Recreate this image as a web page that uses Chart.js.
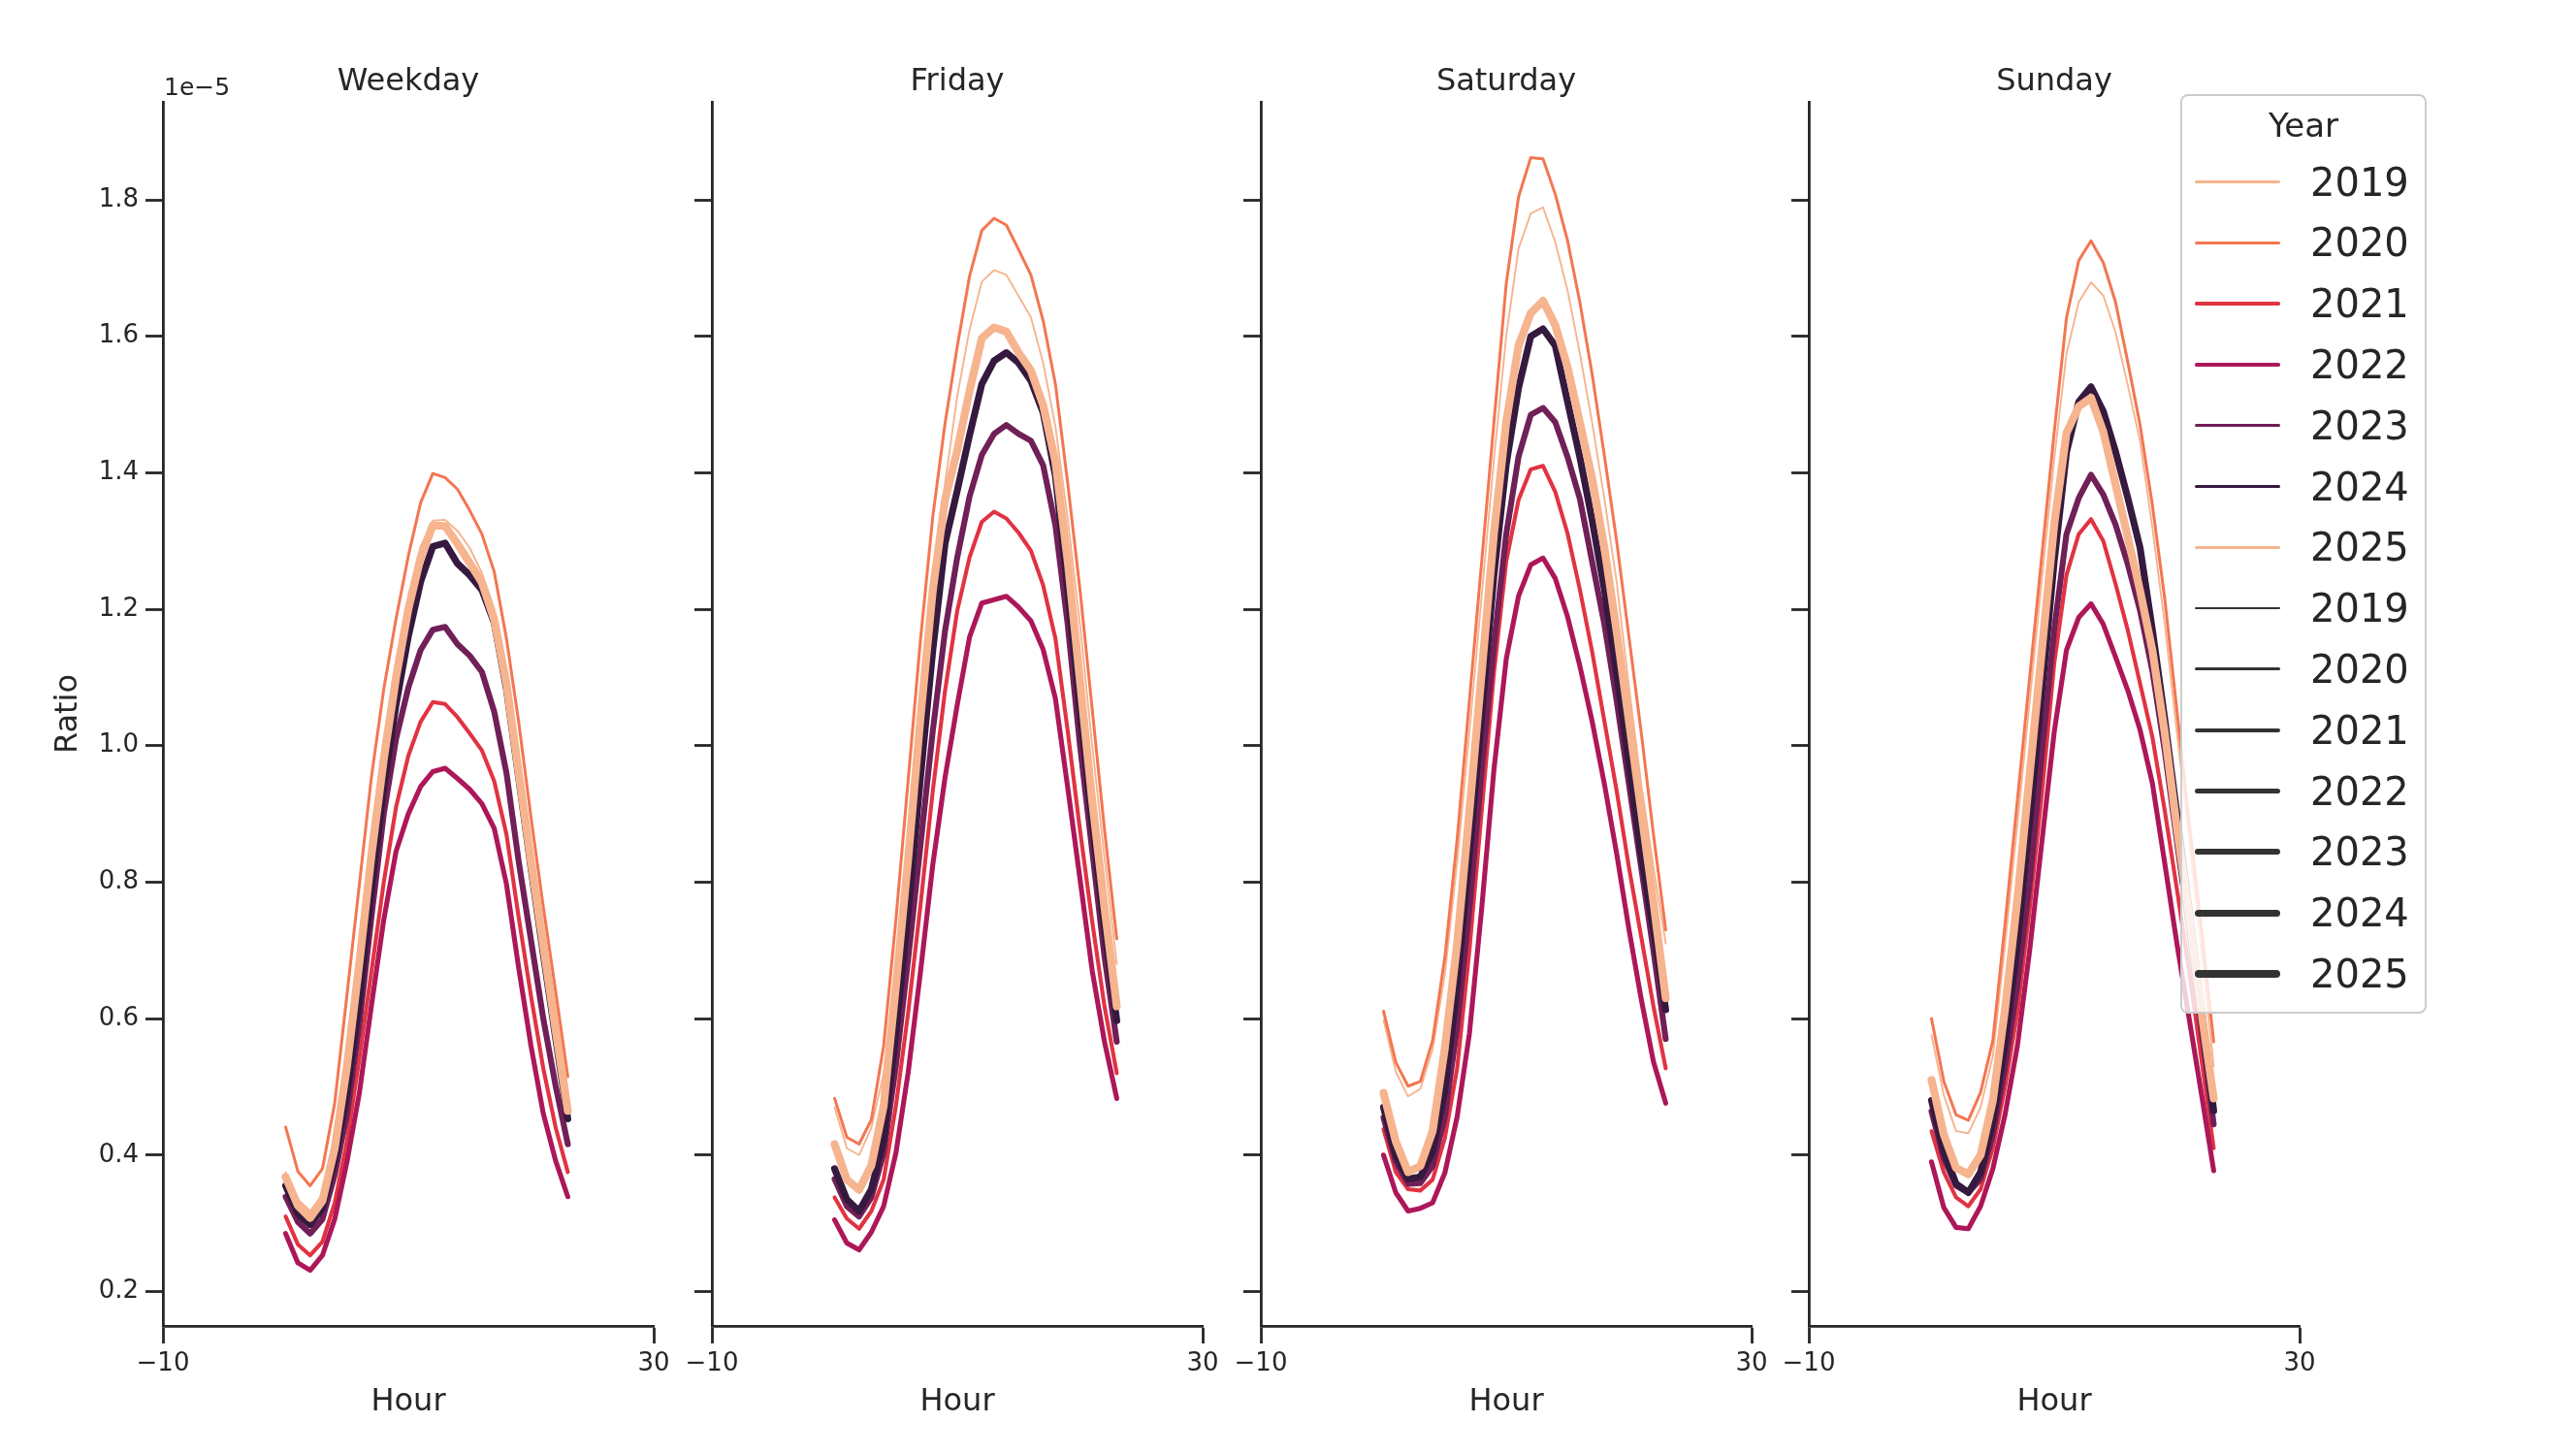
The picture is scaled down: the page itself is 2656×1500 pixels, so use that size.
<!DOCTYPE html>
<html>
<head>
<meta charset="utf-8">
<title>Ratio by hour</title>
<script src="https://cdn.jsdelivr.net/npm/chart.js@4.4.1/dist/chart.umd.min.js"></script>
<style>
  html, body { margin: 0; padding: 0; background: #ffffff; }
  #figure { position: relative; width: 2656px; height: 1500px; overflow: hidden; font-family: "DejaVu Sans", sans-serif; color: #262626; }
  #figure canvas { position: absolute; top: 0; }
  #legend {
    position: absolute; left: 2248px; top: 97px; width: 250px; height: 944px;
    border: 2.5px solid #cccccc; border-radius: 8px; background: rgba(255, 255, 255, 0.8);
  }
  #legend .title { position: absolute; left: 0; right: 0; top: 10px; text-align: center; font-size: 34px; line-height: 40px; }
  #legend .row { position: absolute; left: 0; height: 62px; display: flex; align-items: center; }
  #legend .swatch { margin-left: 13px; width: 88px; }
  #legend .label { margin-left: 31px; font-size: 40px; line-height: 62px; }
</style>
</head>
<body>
<div id="figure">
  <canvas id="panel0" width="700" height="1500" style="left:0px"></canvas>
  <canvas id="panel1" width="700" height="1500" style="left:566px"></canvas>
  <canvas id="panel2" width="700" height="1500" style="left:1132px"></canvas>
  <canvas id="panel3" width="700" height="1500" style="left:1697px"></canvas>
  <div id="legend"></div>
</div>
<script>
// values are in units of 1e-5
const hours = [0, 1, 2, 3, 4, 5, 6, 7, 8, 9, 10, 11, 12, 13, 14, 15, 16, 17, 18, 19, 20, 21, 22, 23];
const years = [2019, 2020, 2021, 2022, 2023, 2024, 2025];
const panelTitles = ["Weekday", "Friday", "Saturday", "Sunday"];
const xTickValues = [-10, 30];
const yTickValues = [0.2, 0.4, 0.6, 0.8, 1.0, 1.2, 1.4, 1.6, 1.8];
const yMin = 0.1495;
const yMax = 1.9436;

// rows follow the years array
const weekdayRatio = [
  [0.375, 0.335, 0.318, 0.343, 0.420, 0.560, 0.715, 0.875, 1.010, 1.125, 1.218, 1.292, 1.330, 1.331, 1.315, 1.290, 1.253, 1.200, 1.110, 0.985, 0.858, 0.735, 0.615, 0.495],
  [0.441, 0.376, 0.355, 0.380, 0.476, 0.635, 0.795, 0.955, 1.083, 1.186, 1.278, 1.356, 1.399, 1.393, 1.376, 1.345, 1.310, 1.255, 1.157, 1.034, 0.895, 0.764, 0.641, 0.515],
  [0.310, 0.269, 0.253, 0.273, 0.330, 0.420, 0.540, 0.670, 0.800, 0.910, 0.985, 1.035, 1.064, 1.061, 1.042, 1.018, 0.993, 0.948, 0.870, 0.748, 0.633, 0.527, 0.441, 0.375],
  [0.285, 0.242, 0.231, 0.253, 0.306, 0.390, 0.490, 0.620, 0.745, 0.845, 0.900, 0.940, 0.962, 0.967, 0.952, 0.936, 0.915, 0.879, 0.797, 0.674, 0.560, 0.461, 0.392, 0.339],
  [0.339, 0.302, 0.285, 0.306, 0.371, 0.460, 0.590, 0.750, 0.900, 1.010, 1.085, 1.140, 1.170, 1.174, 1.149, 1.132, 1.108, 1.050, 0.960, 0.830, 0.715, 0.600, 0.502, 0.416],
  [0.355, 0.314, 0.298, 0.322, 0.392, 0.490, 0.625, 0.790, 0.940, 1.060, 1.160, 1.240, 1.292, 1.297, 1.267, 1.250, 1.228, 1.180, 1.083, 0.952, 0.821, 0.695, 0.572, 0.453],
  [0.368, 0.326, 0.308, 0.333, 0.410, 0.530, 0.680, 0.840, 0.980, 1.100, 1.200, 1.275, 1.323, 1.322, 1.296, 1.268, 1.239, 1.185, 1.091, 0.960, 0.830, 0.707, 0.584, 0.465]
];

const fridayRatio = [
  [0.470, 0.410, 0.400, 0.440, 0.520, 0.680, 0.860, 1.060, 1.250, 1.384, 1.512, 1.610, 1.680, 1.697, 1.690, 1.659, 1.628, 1.561, 1.468, 1.333, 1.178, 1.000, 0.836, 0.680],
  [0.483, 0.426, 0.416, 0.452, 0.560, 0.745, 0.950, 1.155, 1.335, 1.472, 1.585, 1.688, 1.755, 1.773, 1.763, 1.727, 1.690, 1.623, 1.530, 1.385, 1.229, 1.053, 0.877, 0.717],
  [0.338, 0.307, 0.292, 0.318, 0.364, 0.472, 0.609, 0.766, 0.933, 1.080, 1.198, 1.276, 1.328, 1.343, 1.333, 1.312, 1.286, 1.235, 1.157, 1.022, 0.877, 0.742, 0.618, 0.520],
  [0.305, 0.271, 0.261, 0.287, 0.325, 0.403, 0.521, 0.668, 0.825, 0.953, 1.060, 1.159, 1.209, 1.214, 1.219, 1.203, 1.183, 1.141, 1.069, 0.939, 0.805, 0.670, 0.566, 0.483],
  [0.365, 0.325, 0.310, 0.338, 0.403, 0.531, 0.688, 0.854, 1.021, 1.168, 1.276, 1.365, 1.426, 1.457, 1.470, 1.457, 1.447, 1.411, 1.323, 1.178, 1.001, 0.846, 0.691, 0.566],
  [0.380, 0.335, 0.318, 0.350, 0.423, 0.580, 0.757, 0.953, 1.139, 1.296, 1.374, 1.455, 1.530, 1.564, 1.576, 1.561, 1.535, 1.488, 1.395, 1.229, 1.053, 0.887, 0.732, 0.597],
  [0.416, 0.364, 0.349, 0.385, 0.472, 0.648, 0.835, 1.041, 1.227, 1.360, 1.433, 1.520, 1.597, 1.613, 1.607, 1.576, 1.550, 1.499, 1.416, 1.271, 1.095, 0.919, 0.763, 0.618]
];

const saturdayRatio = [
  [0.598, 0.522, 0.486, 0.497, 0.555, 0.665, 0.830, 1.020, 1.220, 1.420, 1.600, 1.728, 1.780, 1.789, 1.738, 1.667, 1.575, 1.474, 1.362, 1.240, 1.087, 0.944, 0.822, 0.710],
  [0.611, 0.536, 0.501, 0.508, 0.568, 0.690, 0.863, 1.066, 1.270, 1.474, 1.677, 1.804, 1.862, 1.860, 1.808, 1.740, 1.650, 1.545, 1.425, 1.300, 1.160, 1.020, 0.870, 0.730],
  [0.438, 0.375, 0.350, 0.348, 0.364, 0.425, 0.527, 0.700, 0.904, 1.107, 1.270, 1.360, 1.405, 1.410, 1.372, 1.311, 1.229, 1.138, 1.036, 0.934, 0.822, 0.720, 0.618, 0.527],
  [0.400, 0.345, 0.318, 0.322, 0.330, 0.374, 0.456, 0.578, 0.761, 0.965, 1.127, 1.219, 1.265, 1.275, 1.245, 1.189, 1.117, 1.036, 0.944, 0.842, 0.731, 0.629, 0.537, 0.476],
  [0.455, 0.390, 0.358, 0.359, 0.384, 0.456, 0.588, 0.761, 0.965, 1.148, 1.310, 1.423, 1.485, 1.495, 1.474, 1.423, 1.362, 1.270, 1.178, 1.066, 0.944, 0.822, 0.700, 0.570],
  [0.470, 0.400, 0.365, 0.368, 0.405, 0.496, 0.649, 0.842, 1.046, 1.250, 1.412, 1.524, 1.600, 1.611, 1.586, 1.504, 1.423, 1.331, 1.229, 1.107, 0.975, 0.842, 0.731, 0.613],
  [0.491, 0.420, 0.375, 0.384, 0.435, 0.557, 0.710, 0.904, 1.107, 1.311, 1.474, 1.586, 1.634, 1.652, 1.616, 1.555, 1.474, 1.392, 1.290, 1.168, 1.036, 0.904, 0.771, 0.630]
];

const sundayRatio = [
  [0.576, 0.488, 0.435, 0.432, 0.470, 0.545, 0.710, 0.885, 1.065, 1.245, 1.420, 1.574, 1.650, 1.679, 1.660, 1.606, 1.528, 1.446, 1.320, 1.180, 1.020, 0.860, 0.700, 0.530],
  [0.600, 0.508, 0.459, 0.451, 0.492, 0.568, 0.740, 0.920, 1.100, 1.280, 1.459, 1.627, 1.711, 1.740, 1.708, 1.650, 1.562, 1.470, 1.353, 1.217, 1.052, 0.887, 0.731, 0.566],
  [0.435, 0.375, 0.338, 0.325, 0.350, 0.410, 0.500, 0.610, 0.760, 0.930, 1.120, 1.250, 1.310, 1.332, 1.300, 1.237, 1.169, 1.091, 1.013, 0.906, 0.790, 0.670, 0.540, 0.410],
  [0.390, 0.323, 0.294, 0.292, 0.325, 0.380, 0.460, 0.560, 0.700, 0.860, 1.020, 1.140, 1.188, 1.208, 1.178, 1.130, 1.081, 1.023, 0.945, 0.829, 0.710, 0.600, 0.490, 0.377],
  [0.464, 0.395, 0.355, 0.345, 0.365, 0.430, 0.530, 0.650, 0.800, 0.990, 1.170, 1.310, 1.363, 1.397, 1.368, 1.324, 1.266, 1.198, 1.110, 0.994, 0.860, 0.730, 0.585, 0.445],
  [0.480, 0.405, 0.358, 0.345, 0.375, 0.450, 0.565, 0.710, 0.890, 1.080, 1.270, 1.430, 1.504, 1.526, 1.490, 1.431, 1.363, 1.290, 1.170, 1.040, 0.900, 0.760, 0.615, 0.465],
  [0.510, 0.430, 0.381, 0.372, 0.400, 0.480, 0.615, 0.775, 0.958, 1.141, 1.324, 1.458, 1.497, 1.510, 1.460, 1.383, 1.305, 1.227, 1.140, 1.020, 0.880, 0.750, 0.610, 0.483]
];

const panelData = [weekdayRatio, fridayRatio, saturdayRatio, sundayRatio];

// rocket palette, 6 colours, cycling back for 2025
const yearColors = ["#f6b48f", "#f37651", "#e13342", "#ad1759", "#701f57", "#35193e", "#f6b48f"];
const yearWidths = [1.9, 3.0, 4.1, 5.1, 6.1, 7.1, 8.2];
const inkColor = "#262626";
const sizeLegendColor = "#333333";

Chart.defaults.font.family = '"DejaVu Sans", sans-serif';
Chart.defaults.color = inkColor;

const tickFormat = (v) => (v < 0 ? "\u2212" + Math.abs(v) : String(v));

// draws the "1e-5" multiplier above the first y axis
const offsetTextPlugin = {
  id: "offsetText",
  afterDraw(chart, args, opts) {
    if (!opts.text) return;
    const { ctx, chartArea } = chart;
    ctx.save();
    ctx.font = '25px "DejaVu Sans"';
    ctx.fillStyle = inkColor;
    ctx.textAlign = "left";
    ctx.textBaseline = "middle";
    ctx.fillText(opts.text, chartArea.left + 1, chartArea.top - 14);
    ctx.restore();
  }
};

const charts = panelTitles.map((name, k) => {
  const datasets = years.map((yr, i) => ({
    label: String(yr),
    data: hours.map((h, j) => ({ x: h, y: panelData[k][i][j] })),
    borderColor: yearColors[i],
    backgroundColor: yearColors[i],
    borderWidth: yearWidths[i],
    pointRadius: 0,
    tension: 0,
    fill: false,
    borderJoinStyle: "round",
    borderCapStyle: "round",
    // chart.js paints the lowest order last, so 2025 ends up on top
    order: years.length - 1 - i
  }));

  return new Chart(document.getElementById("panel" + k), {
    type: "line",
    data: { datasets },
    plugins: [offsetTextPlugin],
    options: {
      responsive: false,
      animation: false,
      devicePixelRatio: 1,
      events: [],
      layout: { autoPadding: false, padding: { left: 0, right: 26, top: 0, bottom: 0 } },
      plugins: {
        legend: { display: false },
        tooltip: { enabled: false },
        title: {
          display: true,
          text: name,
          fullSize: false,
          color: inkColor,
          font: { size: 32, weight: "normal" },
          padding: { top: 65, bottom: 1.6 }
        },
        offsetText: { text: k === 0 ? "1e\u22125" : "" }
      },
      scales: {
        x: {
          type: "linear",
          min: -10,
          max: 30,
          afterBuildTicks: (s) => { s.ticks = xTickValues.map((v) => ({ value: v })); },
          afterFit: (s) => { s.height = 133; },
          ticks: { autoSkip: false, maxRotation: 0, padding: 6, font: { size: 26 }, color: inkColor, callback: tickFormat },
          grid: { display: true, drawOnChartArea: false, drawTicks: true, tickLength: 18, tickWidth: 2.8, tickColor: inkColor, color: inkColor },
          border: { display: true, color: inkColor, width: 2.8 },
          title: { display: true, text: "Hour", color: inkColor, font: { size: 32 }, padding: { top: 0, bottom: 34.8 } }
        },
        y: {
          type: "linear",
          min: yMin,
          max: yMax,
          afterBuildTicks: (s) => { s.ticks = yTickValues.map((v) => ({ value: v })); },
          afterFit: (s) => { s.width = 168; },
          ticks: { display: k === 0, autoSkip: false, padding: 7, font: { size: 26 }, color: inkColor, callback: (v) => v.toFixed(1) },
          grid: { display: true, drawOnChartArea: false, drawTicks: true, tickLength: 18, tickWidth: 2.8, tickColor: inkColor, color: inkColor },
          border: { display: true, color: inkColor, width: 2.8 },
          title: { display: k === 0, text: "Ratio", color: inkColor, font: { size: 32 }, padding: { top: 51.8, bottom: 0 } }
        }
      }
    }
  });
});

// legend: hue entries then size entries, built from the last chart's datasets
const legend = document.getElementById("legend");
const legendTitle = document.createElement("div");
legendTitle.className = "title";
legendTitle.textContent = "Year";
legend.appendChild(legendTitle);

const legendRows = [];
charts[3].data.datasets.forEach((ds) => legendRows.push({ text: ds.label, color: ds.borderColor, width: 3.4 }));
charts[3].data.datasets.forEach((ds) => legendRows.push({ text: ds.label, color: sizeLegendColor, width: ds.borderWidth }));

legendRows.forEach((r, i) => {
  const row = document.createElement("div");
  row.className = "row";
  row.style.top = (91 - 31 - 2.5 + i * 62.8) + "px";
  const sw = document.createElement("div");
  sw.className = "swatch";
  sw.style.height = r.width + "px";
  sw.style.background = r.color;
  sw.style.borderRadius = (r.width / 2) + "px";
  const lab = document.createElement("span");
  lab.className = "label";
  lab.textContent = r.text;
  row.appendChild(sw);
  row.appendChild(lab);
  legend.appendChild(row);
});
</script>
</body>
</html>
